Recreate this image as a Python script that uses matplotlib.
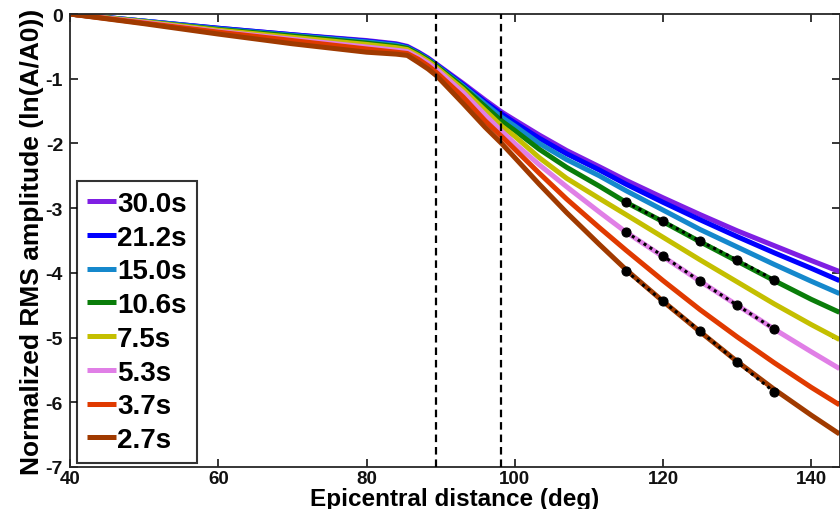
import matplotlib
matplotlib.use("Agg")
import matplotlib.pyplot as plt

# ---------------- data ----------------
distance = [40, 50, 60, 70, 80, 84, 85.5, 87, 88.3, 89.5, 93, 96, 98.3, 100,
            103.3, 107, 111.4, 115, 120, 125, 130, 135, 140, 143.8]

periods = ["30.0s", "21.2s", "15.0s", "10.6s", "7.5s", "5.3s", "3.7s", "2.7s"]

amp_30_0 = [0, -0.11, -0.22, -0.32, -0.41, -0.46, -0.50, -0.59, -0.68, -0.78, -1.07, -1.33,
            -1.52, -1.64, -1.87, -2.11, -2.36, -2.57, -2.84, -3.10, -3.35, -3.58, -3.81, -3.98]
amp_21_2 = [0, -0.11, -0.22, -0.32, -0.42, -0.47, -0.51, -0.60, -0.69, -0.79, -1.09, -1.36,
            -1.55, -1.68, -1.92, -2.16, -2.41, -2.63, -2.91, -3.18, -3.44, -3.69, -3.93, -4.12]
amp_15_0 = [0, -0.11, -0.23, -0.33, -0.43, -0.48, -0.52, -0.61, -0.70, -0.80, -1.11, -1.39,
            -1.60, -1.73, -2.00, -2.25, -2.50, -2.73, -3.03, -3.33, -3.60, -3.87, -4.13, -4.32]
amp_10_6 = [0, -0.12, -0.24, -0.34, -0.45, -0.50, -0.53, -0.62, -0.71, -0.81, -1.13, -1.43,
            -1.66, -1.80, -2.09, -2.37, -2.66, -2.91, -3.21, -3.52, -3.82, -4.12, -4.41, -4.61]
amp_7_5 = [0, -0.12, -0.25, -0.36, -0.47, -0.52, -0.55, -0.64, -0.73, -0.83, -1.16, -1.49,
           -1.74, -1.89, -2.22, -2.54, -2.85, -3.10, -3.45, -3.80, -4.14, -4.48, -4.80, -5.03]
amp_5_3 = [0, -0.13, -0.27, -0.39, -0.51, -0.56, -0.58, -0.67, -0.76, -0.86, -1.21, -1.56,
           -1.82, -2.00, -2.33, -2.67, -3.06, -3.37, -3.75, -4.13, -4.50, -4.87, -5.22, -5.48]
amp_3_7 = [0, -0.14, -0.28, -0.41, -0.54, -0.59, -0.61, -0.70, -0.80, -0.91, -1.28, -1.65,
           -1.90, -2.09, -2.46, -2.86, -3.30, -3.65, -4.12, -4.57, -4.99, -5.39, -5.77, -6.04]
amp_2_7 = [0, -0.15, -0.31, -0.46, -0.59, -0.62, -0.64, -0.75, -0.85, -0.96, -1.38, -1.75,
           -2.01, -2.22, -2.63, -3.07, -3.56, -3.95, -4.44, -4.91, -5.37, -5.80, -6.20, -6.49]

fit_distance = [115, 120, 125, 130, 135]
fit_10_6 = [-2.91, -3.20, -3.51, -3.80, -4.11]
fit_5_3 = [-3.37, -3.74, -4.13, -4.50, -4.87]
fit_2_7 = [-3.97, -4.44, -4.90, -5.38, -5.84]

marker_distances = [89.4, 98.2]

x_ticks = [40, 60, 80, 100, 120, 140]
y_ticks = [0, -1, -2, -3, -4, -5, -6, -7]

colors = ["#7f1fe3", "#0000ff", "#1588cc", "#0a7d0a", "#c4bf00", "#e07fe6", "#e03a00", "#a03a00"]

# ---------------- figure ----------------
plt.rcParams["font.family"] = ["Liberation Sans", "DejaVu Sans"]
plt.rcParams["font.weight"] = "bold"

fig = plt.figure(figsize=(8.4, 5.1), dpi=100)
ax = fig.add_axes([70 / 840, 1 - 468 / 510, 769.5 / 840, (468 - 15) / 510])

series = [amp_30_0, amp_21_2, amp_15_0, amp_10_6, amp_7_5, amp_5_3, amp_3_7, amp_2_7]
for lab, vals, col in zip(periods, series, colors):
    ax.plot(distance, vals, color=col, lw=3.6, label=lab, solid_capstyle="butt",
            solid_joinstyle="round")

for xd in marker_distances:
    ax.axvline(xd, color="black", lw=1.6, ls=(0, (3.4, 2.2)), zorder=5)

for fv in (fit_10_6, fit_5_3, fit_2_7):
    ax.plot(fit_distance, fv, color="black", lw=2.2, ls=(0, (1, 1.3)), zorder=6)
    ax.plot(fit_distance, fv, ls="none", marker="o", ms=6.5, mfc="black",
            mec="black", mew=0.8, zorder=7)

ax.set_xlim(40, 143.8)
ax.set_ylim(-7, 0)
ax.set_xticks(x_ticks)
ax.set_yticks(y_ticks)
ax.set_xticklabels([str(v) for v in x_ticks])
ax.set_yticklabels([str(v) for v in y_ticks])

spine_col = "#262626"
for s in ax.spines.values():
    s.set_color(spine_col)
    s.set_linewidth(1.3)
ax.tick_params(direction="in", length=6, width=1.3, colors=spine_col,
               top=True, right=True, labelsize=14, pad=5)
ax.tick_params(axis="x", labelsize=13.5, pad=2.5)
for t in ax.get_xticklabels() + ax.get_yticklabels():
    t.set_color("#111111")
    t.set_fontweight("bold")

ax.set_xlabel("Epicentral distance (deg)", fontsize=17.5, fontweight="bold", labelpad=0)
ax.set_ylabel("Normalized RMS amplitude (ln(A/A0))", fontsize=19, fontweight="bold",
              labelpad=1)

leg = ax.legend(loc="lower left", bbox_to_anchor=(0.009, 0.009), fontsize=20,
                frameon=True, fancybox=False, edgecolor="black", handlelength=1.05,
                handletextpad=0.05, borderpad=0.35, labelspacing=0.28,
                borderaxespad=0.0)
leg.get_frame().set_linewidth(1.5)
for line in leg.get_lines():
    line.set_linewidth(3.6)
for txt in leg.get_texts():
    txt.set_fontweight("bold")

fig.savefig("out.png", dpi=100)
